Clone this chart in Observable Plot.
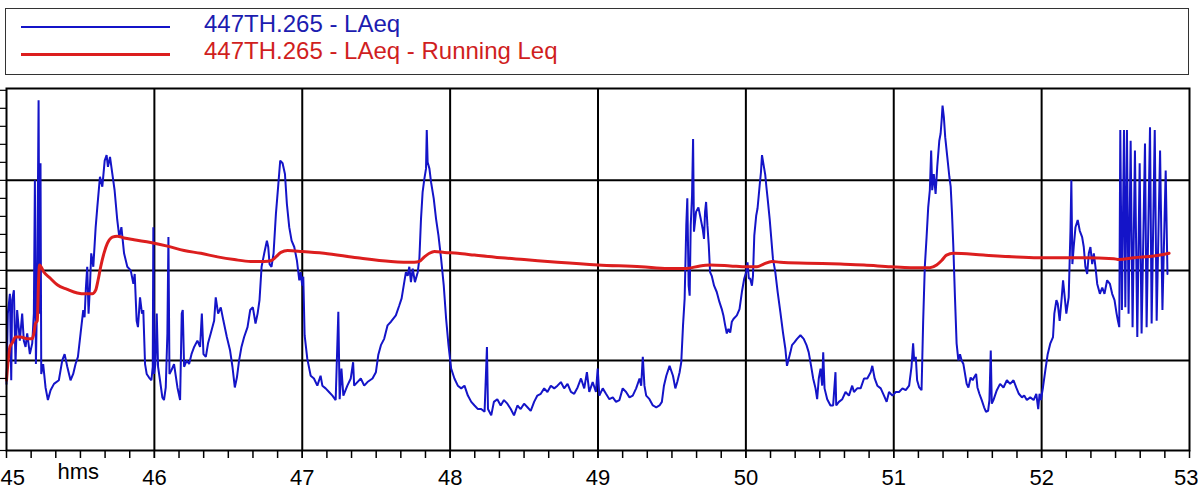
<!DOCTYPE html>
<html>
<head>
<meta charset="utf-8">
<script src="https://cdn.jsdelivr.net/npm/d3@7"></script>
<script src="https://cdn.jsdelivr.net/npm/@observablehq/plot@0.6"></script>
<style>
  html, body { margin: 0; padding: 0; background: #fff; }
  body { width: 1198px; font-family: "Liberation Sans", Arial, sans-serif; }
  #legend { position: relative; height: 80px; }
  #legend .box { position: absolute; left: 5px; top: 8px; width: 1182px; height: 65px; border: 1.5px solid #333; }
  #legend .swatch { position: absolute; left: 21px; width: 149px; }
  #legend .label { position: absolute; left: 204px; font-size: 24px; line-height: 24px; white-space: nowrap; }
</style>
</head>
<body>
<div id="legend"></div>
<div id="chart"></div>
<script>
// ---- Data (time in decimal minutes, level in dB) ----
const seriesNames = ["447TH.265 - LAeq", "447TH.265 - LAeq - Running Leq"];
const seriesColors = ["#1414c8", "#dc1e1e"];
const xAxisName = "hms";

const xLabelTicks = [45, 46, 47, 48, 49, 50, 51, 52, 53];
const xGrid = [46, 47, 48, 49, 50, 51, 52];
const yGrid = [50, 60, 70];
const yTicks = [40, 42, 44, 46, 48, 50, 52, 54, 56, 58, 60, 62, 64, 66, 68, 70, 72, 74, 76, 78, 80];
const ticksPerMinute = 6; // one tick every 10 s

const laeq = [
[45.000,47.4],[45.009,55.2],[45.023,57.4],[45.032,47.8],[45.038,56.7],[45.050,57.8],[45.061,49.6],[45.072,55.6],[45.090,52.2],[45.106,55.2],
[45.117,52.2],[45.129,51.5],[45.140,53.0],[45.158,50.7],[45.174,51.9],[45.185,55.2],[45.192,70.0],[45.199,49.6],[45.208,58.9],[45.217,78.9],
[45.223,55.2],[45.230,71.9],[45.235,48.5],[45.248,49.6],[45.264,47.0],[45.280,45.6],[45.298,46.7],[45.321,47.4],[45.354,47.8],[45.377,50.0],
[45.393,50.7],[45.411,49.3],[45.433,47.8],[45.451,48.5],[45.467,49.6],[45.483,50.4],[45.501,53.0],[45.519,55.6],[45.528,54.8],[45.537,58.1],
[45.546,60.4],[45.555,55.2],[45.564,58.1],[45.573,61.9],[45.587,60.4],[45.603,64.8],[45.614,67.0],[45.632,70.4],[45.648,69.3],[45.664,72.2],
[45.677,72.8],[45.686,71.5],[45.700,72.6],[45.716,70.7],[45.731,68.9],[45.749,65.6],[45.763,63.7],[45.777,64.8],[45.795,61.9],[45.817,60.4],
[45.840,60.0],[45.858,58.5],[45.867,59.6],[45.880,54.4],[45.889,53.7],[45.903,57.0],[45.916,55.2],[45.925,55.6],[45.937,49.6],[45.948,48.5],
[45.964,48.1],[45.980,47.8],[45.989,49.3],[45.993,64.8],[45.998,48.5],[46.007,49.6],[46.016,55.2],[46.025,49.3],[46.038,47.8],[46.054,45.9],
[46.065,45.6],[46.077,47.0],[46.088,53.0],[46.095,63.7],[46.102,48.5],[46.115,48.9],[46.133,49.6],[46.156,47.0],[46.174,45.6],[46.185,55.2],
[46.192,55.6],[46.201,49.3],[46.219,50.0],[46.235,49.6],[46.251,50.7],[46.269,51.5],[46.291,52.2],[46.309,51.5],[46.321,55.2],[46.332,50.7],
[46.348,50.4],[46.363,51.9],[46.381,53.0],[46.404,54.4],[46.415,57.0],[46.431,55.2],[46.449,55.9],[46.467,54.4],[46.490,52.6],[46.512,51.1],
[46.528,49.3],[46.544,47.0],[46.558,48.1],[46.573,50.0],[46.589,51.5],[46.607,52.6],[46.630,53.7],[46.648,55.6],[46.666,55.9],[46.684,54.1],
[46.698,55.2],[46.711,56.7],[46.725,60.4],[46.743,61.9],[46.761,63.3],[46.770,62.6],[46.779,60.7],[46.792,60.4],[46.806,61.9],[46.822,66.3],
[46.837,69.3],[46.851,72.2],[46.867,71.9],[46.883,70.7],[46.896,67.4],[46.912,64.8],[46.928,63.3],[46.946,62.6],[46.964,61.1],[46.980,58.9],
[46.989,59.8],[47.000,58.3],[47.007,59.3],[47.016,52.8],[47.034,50.2],[47.057,48.3],[47.079,48.0],[47.102,47.2],[47.124,48.3],[47.136,47.2],
[47.158,46.9],[47.181,46.5],[47.204,46.1],[47.226,45.6],[47.244,55.4],[47.253,45.7],[47.265,49.1],[47.278,46.1],[47.305,47.2],[47.328,48.0],
[47.344,49.8],[47.351,47.2],[47.373,47.6],[47.396,48.0],[47.419,47.2],[47.441,47.6],[47.475,48.0],[47.498,48.7],[47.514,50.6],[47.532,51.7],
[47.554,52.4],[47.577,53.9],[47.600,54.3],[47.633,55.0],[47.656,56.1],[47.672,56.9],[47.686,58.3],[47.701,59.8],[47.713,59.4],[47.724,60.4],
[47.735,58.7],[47.747,60.2],[47.762,58.7],[47.781,59.8],[47.792,61.3],[47.803,65.7],[47.814,68.7],[47.826,70.2],[47.837,71.3],[47.842,75.6],
[47.848,72.0],[47.860,71.3],[47.871,69.8],[47.889,68.0],[47.905,65.7],[47.921,63.9],[47.939,61.3],[47.957,58.3],[47.973,54.6],[47.989,51.7],
[48.007,49.1],[48.029,48.0],[48.052,47.2],[48.075,46.9],[48.097,47.2],[48.120,46.1],[48.143,45.4],[48.165,45.0],[48.188,44.6],[48.210,44.6],
[48.233,44.3],[48.249,51.5],[48.256,44.6],[48.278,43.9],
[48.296,45.4],[48.319,45.7],[48.342,45.0],[48.364,45.6],[48.387,45.2],[48.410,44.6],[48.432,43.9],[48.455,45.0],[48.477,44.6],[48.500,45.2],
[48.523,44.8],[48.545,44.4],[48.568,45.4],[48.590,46.1],[48.613,46.3],[48.636,46.9],[48.658,46.5],[48.681,47.2],[48.704,46.9],[48.726,47.2],
[48.749,47.6],[48.771,46.9],[48.794,47.4],[48.817,46.5],[48.839,46.3],[48.862,47.0],[48.885,48.0],[48.907,46.9],[48.925,48.7],[48.941,46.5],
[48.964,47.6],[48.986,46.5],[48.998,49.1],[49.009,46.1],[49.032,46.9],[49.054,46.3],[49.077,45.7],[49.100,45.9],[49.122,45.4],[49.145,45.6],
[49.167,46.9],[49.190,46.5],[49.213,45.9],[49.235,46.1],[49.258,46.9],[49.281,48.0],[49.292,47.2],[49.303,50.4],[49.314,47.2],[49.326,46.1],
[49.348,45.7],[49.371,45.0],[49.394,44.8],[49.416,45.0],[49.432,45.4],[49.446,47.2],[49.462,48.3],[49.484,49.4],[49.507,48.3],[49.523,46.9],
[49.536,47.6],[49.552,48.7],[49.563,49.8],[49.575,53.9],[49.586,56.9],[49.597,65.0],[49.604,68.0],[49.613,58.3],[49.620,57.2],[49.627,65.0],
[49.636,68.3],[49.643,74.6],
[49.649,64.3],[49.663,66.5],[49.679,67.0],[49.695,65.7],[49.708,64.6],[49.717,63.5],[49.724,66.5],[49.731,67.6],[49.740,65.0],[49.749,62.8],
[49.758,59.8],[49.769,59.4],[49.785,58.3],[49.803,57.6],[49.821,56.5],[49.837,55.7],[49.848,55.0],[49.860,53.9],[49.871,53.0],[49.882,53.5],
[49.894,53.1],[49.905,54.3],[49.916,54.6],[49.939,55.0],[49.957,55.7],[49.973,57.6],[49.989,59.1],[50.002,59.8],[50.011,60.9],[50.020,59.1],
[50.029,59.1],[50.041,58.3],[50.048,59.4],[50.057,63.9],[50.070,66.1],[50.079,66.9],[50.093,69.4],[50.102,70.9],[50.109,72.8],[50.120,71.7],
[50.131,70.6],[50.138,69.4],[50.147,68.0],[50.161,65.7],[50.172,63.5],[50.183,61.3],[50.199,59.8],[50.215,57.6],[50.233,55.4],[50.251,53.1],
[50.267,51.3],[50.278,49.4],[50.290,50.2],[50.301,50.9],[50.312,51.7],[50.328,52.0],[50.346,52.4],[50.369,52.8],[50.391,52.4],[50.410,51.7],
[50.425,50.9],[50.441,49.4],[50.455,48.0],[50.471,46.9],[50.482,45.7],[50.493,48.0],[50.505,49.1],[50.516,47.2],[50.523,50.9],[50.532,46.9],
[50.550,45.7],[50.572,45.0],[50.590,45.0],[50.606,48.7],[50.611,45.0],[50.629,45.4],[50.652,45.7],[50.674,46.5],[50.697,46.1],[50.719,47.2],
[50.731,46.5],[50.753,46.9],[50.776,46.9],[50.799,48.0],[50.821,48.0],[50.844,48.7],[50.855,49.4],[50.871,48.0],[50.889,47.2],[50.912,46.9],
[50.934,46.1],[50.952,45.4],[50.968,46.5],[50.991,46.1],[51.014,46.5],[51.036,46.5],[51.059,46.9],[51.081,46.7],[51.104,47.2],
[51.120,49.3],[51.131,51.9],[51.138,50.0],[51.149,50.4],[51.158,47.8],[51.172,47.0],[51.188,46.7],[51.199,54.4],[51.210,60.4],[51.222,63.7],
[51.233,67.0],[51.244,68.9],[51.253,73.3],[51.260,68.9],[51.271,70.7],[51.283,68.5],[51.294,71.5],[51.308,74.4],[51.317,75.2],[51.324,76.7],
[51.330,78.3],[51.339,77.0],[51.348,74.8],[51.362,72.6],[51.376,70.4],[51.385,69.3],[51.394,66.3],[51.403,62.6],[51.414,57.0],[51.425,51.9],
[51.437,50.0],[51.448,50.7],[51.459,50.0],[51.471,49.6],[51.482,48.5],[51.493,47.4],[51.505,47.0],[51.520,48.1],[51.534,47.8],[51.543,48.1],
[51.557,48.5],[51.566,47.0],[51.579,46.3],[51.595,45.6],[51.611,44.8],[51.624,44.3],[51.638,44.4],[51.647,45.6],[51.656,51.1],[51.663,45.2],
[51.674,45.6],[51.697,46.7],[51.719,47.4],[51.742,47.0],[51.765,47.8],[51.787,47.4],[51.810,47.8],[51.828,47.0],[51.846,46.3],[51.867,45.9],
[51.882,46.1],[51.900,45.6],[51.923,45.9],[51.946,45.6],[51.964,46.3],[51.977,44.6],[51.986,46.3],[51.995,45.6],[52.009,47.0],[52.025,48.9],
[52.041,50.7],[52.059,51.9],[52.077,52.6],[52.086,55.2],[52.100,56.7],[52.109,56.3],[52.122,54.4],[52.136,57.0],[52.145,58.9],[52.154,57.4],
[52.167,55.2],[52.183,57.0],[52.195,64.4],[52.201,70.0],[52.208,60.7],[52.217,62.6],[52.229,64.8],[52.244,65.6],[52.258,64.4],[52.274,63.7],
[52.285,62.6],[52.296,60.4],[52.308,59.6],[52.319,61.9],[52.330,62.6],[52.342,60.7],[52.353,61.9],[52.364,60.4],[52.376,58.5],[52.394,57.4],
[52.410,58.1],[52.425,57.4],[52.443,58.9],[52.462,58.5],[52.477,57.4],[52.493,56.7],[52.507,55.2],[52.516,54.4],[52.525,53.7],[52.532,75.6],
[52.543,55.6],[52.557,75.6],[52.566,55.9],[52.577,75.6],[52.588,55.2],[52.602,74.4],[52.615,53.7],[52.631,73.3],[52.647,52.6],[52.663,71.9],
[52.676,53.0],[52.699,74.1],[52.710,53.7],[52.733,75.9],[52.744,54.1],[52.765,75.6],[52.778,54.4],[52.801,73.3],[52.817,55.6],[52.839,71.1],
[52.851,59.6]
];

const runningLeq = [
[45.000,47.8],[45.009,49.6],[45.023,51.5],[45.038,51.9],[45.061,52.6],[45.095,52.6],[45.140,52.4],[45.174,52.4],[45.185,53.0],[45.196,54.1],
[45.208,54.4],[45.217,58.9],[45.223,60.6],[45.253,59.8],[45.298,59.1],[45.343,58.4],[45.411,57.9],[45.479,57.5],[45.535,57.4],[45.580,57.4],
[45.603,57.8],[45.619,58.9],[45.637,60.4],[45.659,61.9],[45.682,63.0],[45.716,63.7],[45.749,63.8],[45.795,63.6],[45.862,63.4],[45.975,63.1],
[46.088,62.7],[46.201,62.2],[46.314,61.9],[46.427,61.5],[46.540,61.2],[46.652,61.0],[46.743,61.0],[46.792,61.1],[46.822,61.5],[46.856,62.0],
[46.901,62.2],[47.000,62.1],[47.147,61.9],[47.373,61.4],[47.600,61.0],[47.758,60.9],[47.792,61.0],[47.826,61.5],[47.860,61.9],[47.894,62.1],
[47.962,62.0],[48.052,61.9],[48.165,61.7],[48.346,61.4],[48.500,61.2],[48.726,60.9],[49.000,60.6],[49.292,60.4],[49.473,60.2],[49.597,60.2],
[49.690,60.5],[49.758,60.6],[49.894,60.5],[50.007,60.4],[50.075,60.4],[50.120,60.7],[50.176,61.0],[50.233,60.9],[50.414,60.8],[50.640,60.7],
[50.799,60.6],[50.980,60.4],[51.115,60.3],[51.244,60.3],[51.290,60.6],[51.324,61.1],[51.357,61.7],[51.403,61.9],[51.606,61.7],[51.833,61.5],
[52.000,61.4],[52.285,61.4],[52.489,61.3],[52.523,61.2],[52.624,61.4],[52.760,61.6],[52.862,61.9]
];

// ---- Legend (HTML, above the SVG) ----
const legend = document.getElementById("legend");
legend.innerHTML = `
  <div class="box"></div>
  <div class="swatch" style="top:26px;height:1.6px;background:${seriesColors[0]}"></div>
  <div class="label" style="top:12px;color:#1c1cb0">${seriesNames[0]}</div>
  <div class="swatch" style="top:53px;height:3px;background:${seriesColors[1]}"></div>
  <div class="label" style="top:39px;color:#d01e1e">${seriesNames[1]}</div>`;

// ---- Chart ----
const minorTicks = d3.range(0, (xLabelTicks.length - 1) * ticksPerMinute + 1)
  .map(i => xLabelTicks[0] + i / ticksPerMinute);
const firstLabel = xLabelTicks[0];
const lastLabel = xLabelTicks[xLabelTicks.length - 1];
const innerLabels = xLabelTicks.slice(1, -1);
const labelStyle = {frameAnchor: "bottom", lineAnchor: "top", dy: 19, fontSize: 22, fill: "black"};

const chart = Plot.plot({
  width: 1198,
  height: 410,
  marginTop: 8,
  marginBottom: 40,
  marginLeft: 6,
  marginRight: 9,
  x: {domain: [firstLabel, lastLabel]},
  y: {domain: [40, 80.2]},
  style: {background: "white", overflow: "visible", fontFamily: "'Liberation Sans', Arial, sans-serif", color: "black"},
  marks: [
    Plot.ruleX(xGrid, {stroke: "black", strokeWidth: 2}),
    Plot.ruleY(yGrid, {stroke: "black", strokeWidth: 2}),
    Plot.line(laeq, {x: d => d[0], y: d => d[1], stroke: seriesColors[0], strokeWidth: 2, strokeLinejoin: "miter"}),
    Plot.line(runningLeq, {x: d => d[0], y: d => d[1], stroke: seriesColors[1], strokeWidth: 3, curve: "monotone-x"}),
    Plot.frame({stroke: "black", strokeWidth: 2}),
    Plot.axisX({ticks: minorTicks, tickSize: 8, tickFormat: () => "", label: null, stroke: "black", strokeWidth: 1.5}),
    Plot.axisX({ticks: innerLabels, tickSize: 8, tickPadding: 11, fontSize: 22, label: null, stroke: "black", strokeWidth: 1.5, fill: "black"}),
    Plot.text([firstLabel], {...labelStyle, x: d => d, text: d => String(d), textAnchor: "start", dx: -6}),
    Plot.text([lastLabel], {...labelStyle, x: d => d, text: d => String(d), textAnchor: "end", dx: 9}),
    Plot.axisY({ticks: yTicks, tickSize: 6, tickFormat: () => "", label: null, stroke: "black", strokeWidth: 1.2}),
    Plot.text([xAxisName], {frameAnchor: "bottom-left", dx: 51, dy: 28, textAnchor: "start", fontSize: 22, fill: "black"})
  ]
});
document.getElementById("chart").appendChild(chart);
</script>
</body>
</html>
